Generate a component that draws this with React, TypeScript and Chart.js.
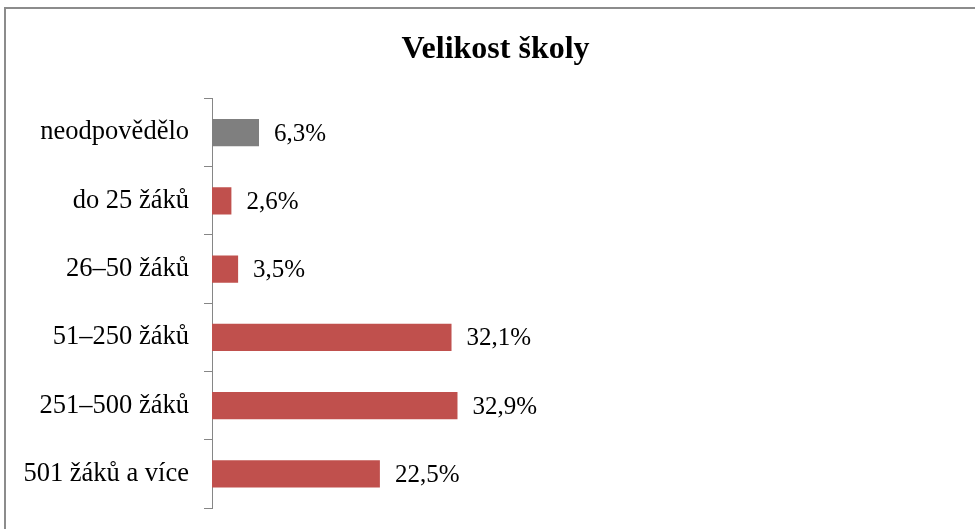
import React, { useEffect, useRef } from "react";
import { Chart, registerables } from "chart.js";

Chart.register(...registerables);

const chartTitle = "Velikost školy";
const categories = [
  "neodpovědělo",
  "do 25 žáků",
  "26–50 žáků",
  "51–250 žáků",
  "251–500 žáků",
  "501 žáků a více",
];
const values = [6.3, 2.6, 3.5, 32.1, 32.9, 22.5];
const barColors = ["#7F7F7F", "#C0504D", "#C0504D", "#C0504D", "#C0504D", "#C0504D"];
const axisMax = 104.4;

const FONT = "'Liberation Serif', 'Times New Roman', serif";

const formatPct = (v: number) => v.toFixed(1).replace(".", ",") + "%";

const valueLabelPlugin = {
  id: "valueLabels",
  afterDatasetsDraw(chart: any) {
    const ctx = chart.ctx;
    const meta = chart.getDatasetMeta(0);
    ctx.save();
    ctx.font = `25px ${FONT}`;
    ctx.fillStyle = "#000";
    ctx.textAlign = "left";
    ctx.textBaseline = "middle";
    meta.data.forEach((el: any, i: number) => {
      ctx.fillText(formatPct(values[i]), el.x + 15, el.y + 1.5);
    });
    ctx.restore();
  },
};

export default function App() {
  const ref = useRef<HTMLCanvasElement | null>(null);

  useEffect(() => {
    if (!ref.current) return;
    const chart = new Chart(ref.current, {
      type: "bar",
      data: {
        labels: categories,
        datasets: [
          {
            data: values,
            backgroundColor: barColors,
            borderWidth: 0,
            categoryPercentage: 1,
            barPercentage: 0.4,
          },
        ],
      },
      options: {
        indexAxis: "y",
        animation: false,
        responsive: false,
        devicePixelRatio: 1,
        layout: { padding: { left: 0, right: 2, top: 0, bottom: 0 } },
        plugins: {
          legend: { display: false },
          tooltip: { enabled: false },
          title: {
            display: true,
            text: chartTitle,
            color: "#000",
            font: { family: FONT, size: 32, weight: "bold" },
            padding: { top: 31, bottom: 29 },
          },
        },
        scales: {
          x: { display: false, min: 0, max: axisMax },
          y: {
            grid: {
              display: true,
              drawOnChartArea: false,
              drawTicks: true,
              tickLength: 8,
              color: "#868686",
              offset: true,
            },
            border: { display: true, color: "#868686", width: 1 },
            ticks: {
              color: "#000",
              font: { family: FONT, size: 26.5 },
              padding: 15,
            },
            afterFit: (s: any) => {
              s.width = 212;
            },
          },
        },
      },
      plugins: [valueLabelPlugin],
    });
    return () => chart.destroy();
  }, []);

  return (
    <div
      style={{
        position: "fixed",
        left: 0,
        top: 0,
        width: 975,
        height: 529,
        overflow: "hidden",
        background: "#fff",
      }}
    >
      <div
        style={{
          position: "absolute",
          left: 4,
          top: 7,
          width: 1100,
          height: 700,
          border: "2px solid #8C8C8C",
          boxSizing: "border-box",
        }}
      />
      <canvas
        ref={ref}
        width={993}
        height={539}
        style={{ position: "absolute", left: 0, top: 0, width: 993, height: 539 }}
      />
    </div>
  );
}
